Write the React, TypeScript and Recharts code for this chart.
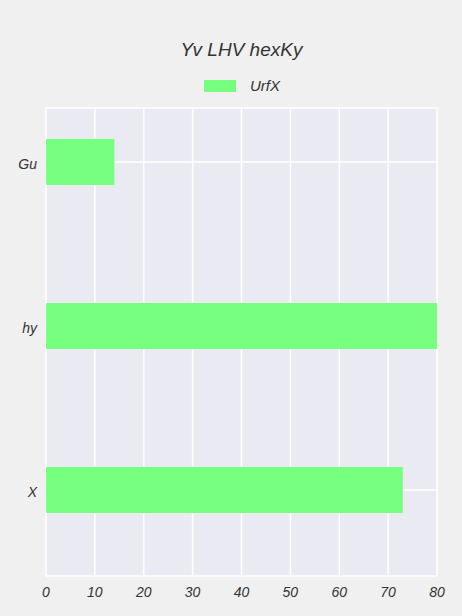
import { Bar, BarChart, CartesianGrid, XAxis, YAxis } from "recharts";

const CATEGORIES = ["Gu", "hy", "X"];
const URFX = [14, 80, 73];
const X_TICKS = [0, 10, 20, 30, 40, 50, 60, 70, 80];

const FONT = '"Liberation Sans", Arial, sans-serif';
const BAR_COLOR = "#77ff7f";

const data = CATEGORIES.map((name, i) => ({ name, UrfX: URFX[i] }));

export default function App() {
  return (
    <div
      style={{
        position: "absolute",
        left: 0,
        top: 0,
        width: 462,
        height: 616,
        background: "#f0f0f0",
        fontFamily: FONT,
      }}
    >
      {/* title sits centred over the plot area, not the whole canvas */}
      <div
        style={{
          position: "absolute",
          top: 39,
          left: 46,
          width: 391,
          textAlign: "center",
          fontSize: 19,
          fontStyle: "italic",
          color: "#333",
        }}
      >
        Yv LHV hexKy
      </div>
      <div
        style={{
          position: "absolute",
          top: 77,
          left: 204,
          display: "flex",
          alignItems: "center",
          gap: 14,
          fontSize: 15,
          fontStyle: "italic",
          color: "#333",
        }}
      >
        <span
          style={{
            display: "inline-block",
            width: 32,
            height: 12,
            background: BAR_COLOR,
          }}
        />
        UrfX
      </div>
      <BarChart
        width={462}
        height={616}
        data={data}
        layout="vertical"
        margin={{ top: 108, right: 25, left: 0, bottom: 0 }}
        style={{ position: "absolute", left: 0, top: 0 }}
      >
        <CartesianGrid stroke="#ffffff" strokeWidth={1.5} fill="#eaeaf2" />
        <XAxis
          type="number"
          domain={[0, 80]}
          ticks={X_TICKS}
          axisLine={false}
          tickLine={false}
          tickSize={0}
          tickMargin={11}
          height={40}
          tick={{ fill: "#333", fontSize: 14, fontStyle: "italic", fontFamily: FONT }}
        />
        <YAxis
          type="category"
          dataKey="name"
          width={46}
          axisLine={false}
          tickLine={false}
          tickSize={0}
          tickMargin={9}
          padding={{ top: -28, bottom: 4 }}
          tick={{ fill: "#333", fontSize: 14, fontStyle: "italic", fontFamily: FONT, dy: 2 }}
        />
        <Bar dataKey="UrfX" fill={BAR_COLOR} barSize={46} isAnimationActive={false} />
      </BarChart>
    </div>
  );
}
